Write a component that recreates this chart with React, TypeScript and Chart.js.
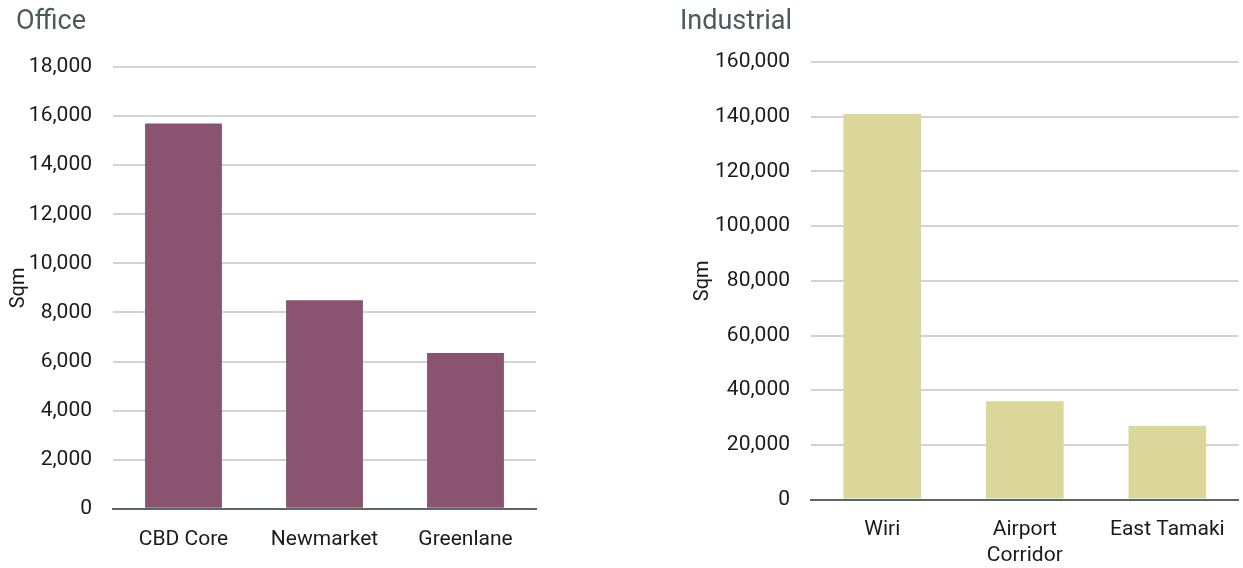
import React, { useEffect, useRef } from "react";
import { Chart, registerables } from "chart.js";

Chart.register(...registerables);

const officeCategories = ["CBD Core", "Newmarket", "Greenlane"];
const officeValues = [15700, 8500, 6350];
const industrialCategories: (string | string[])[] = ["Wiri", ["Airport", "Corridor"], "East Tamaki"];
const industrialValues = [141000, 36000, 27000];

const FONT = "Roboto, 'Liberation Sans', sans-serif";

type PanelProps = {
  title: string;
  titleLeft: number;
  labels: (string | string[])[];
  values: number[];
  color: string;
  max: number;
  step: number;
  padding: { left: number; right: number; top: number; bottom: number };
  axisWidth: number;
  xPad: number;
  left: number;
  width: number;
  height: number;
};

function Panel(p: PanelProps) {
  const ref = useRef<HTMLCanvasElement | null>(null);
  useEffect(() => {
    if (!ref.current) return;
    const chart = new Chart(ref.current, {
      type: "bar",
      data: {
        labels: p.labels as any,
        datasets: [
          {
            data: p.values,
            backgroundColor: p.color,
            borderWidth: 0,
            categoryPercentage: 1,
            barPercentage: 0.545,
          },
        ],
      },
      options: {
        animation: false,
        responsive: false,
        maintainAspectRatio: false,
        layout: { padding: p.padding },
        plugins: { legend: { display: false }, tooltip: { enabled: false }, title: { display: false } },
        scales: {
          x: {
            grid: { display: false, drawTicks: false },
            border: { display: true, color: "#5b6666", width: 2 },
            ticks: { color: "#1a1a1a", font: { family: FONT, size: 21 }, padding: p.xPad, maxRotation: 0 },
          },
          y: {
            min: 0,
            max: p.max,
            afterFit: (s: any) => {
              s.width = p.axisWidth;
            },
            grid: { color: "#cfd5d5", lineWidth: 2, drawTicks: false },
            border: { display: false },
            ticks: {
              stepSize: p.step,
              padding: 21,
              color: "#1a1a1a",
              font: { family: FONT, size: 21 },
              callback: (v: any) => Number(v).toLocaleString("en-US"),
            },
            title: {
              display: true,
              text: "Sqm",
              color: "#1a1a1a",
              font: { family: FONT, size: 20 },
              padding: 0,
            },
          },
        },
      },
    });
    return () => chart.destroy();
  }, []);
  return (
    <div style={{ position: "absolute", left: p.left, top: 0, width: p.width, height: 568, overflow: "hidden" }}>
      <canvas ref={ref} width={p.width} height={p.height} style={{ display: "block" }} />
      <div
        style={{
          position: "absolute",
          left: p.titleLeft,
          top: 4,
          fontFamily: FONT,
          fontSize: 27,
          color: "#4b5a5b",
          whiteSpace: "nowrap",
        }}
      >
        {p.title}
      </div>
    </div>
  );
}

export default function App() {
  return (
    <div style={{ position: "absolute", left: 0, top: 0, width: 1243, height: 568, background: "#fff", overflow: "hidden" }}>
      <Panel
        title="Office"
        titleLeft={16}
        labels={officeCategories}
        values={officeValues}
        color="#8a5370"
        max={18000}
        step={2000}
        padding={{ left: 7, right: 9, top: 67, bottom: 0 }}
        axisWidth={106}
        xPad={18}
        left={0}
        width={545}
        height={570}
      />
      <Panel
        title="Industrial"
        titleLeft={20}
        labels={industrialCategories}
        values={industrialValues}
        color="#dbd79b"
        max={160000}
        step={20000}
        padding={{ left: 31, right: 2, top: 62, bottom: 0 }}
        axisWidth={120}
        xPad={18}
        left={660}
        width={583}
        height={586}
      />
    </div>
  );
}
